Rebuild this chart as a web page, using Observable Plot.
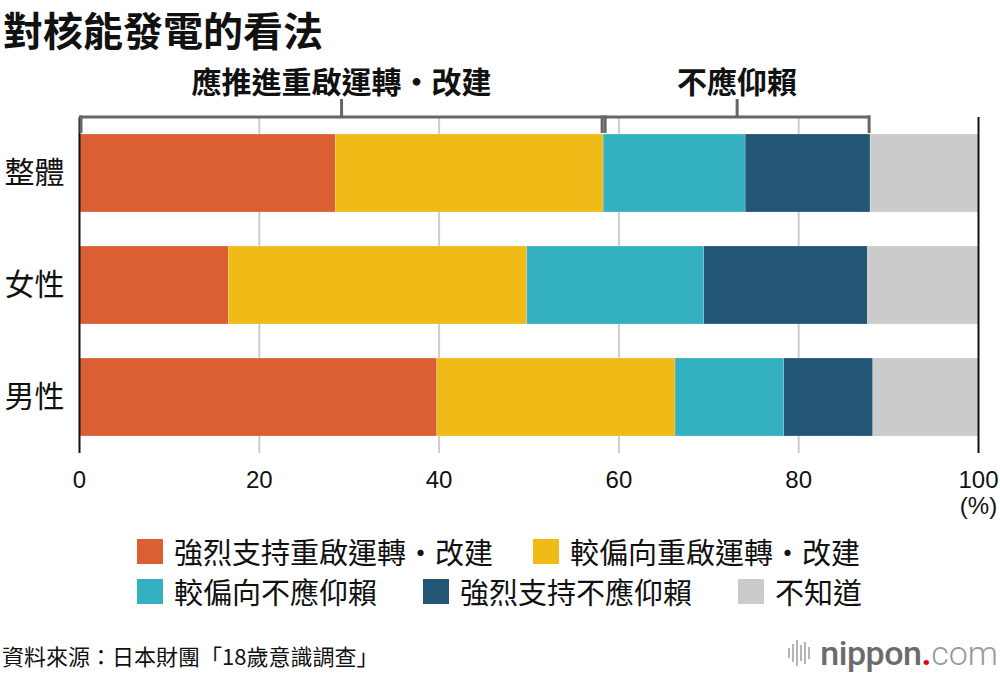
<!DOCTYPE html>
<html><head><meta charset="utf-8">
<script src="https://cdn.jsdelivr.net/npm/d3@7"></script>
<script src="https://cdn.jsdelivr.net/npm/@observablehq/plot@0.6"></script>
<style>
body{margin:0;width:1000px;height:674px;background:#fff;position:relative;overflow:hidden;font-family:"Noto Sans CJK TC",sans-serif;color:#111;}
#title{position:absolute;left:3px;top:0px;font-size:40px;font-weight:700;line-height:58px;}
#chart{position:absolute;left:0;top:50px;}
#legend{position:absolute;left:137px;top:531px;}
.row{display:flex;align-items:center;height:40px;gap:46px;}
.row.first{gap:40px;}
.item{display:flex;align-items:center;}
.sw{width:26px;height:25px;margin-right:11px;}
.lab{font-size:29px;line-height:34px;}
#source{position:absolute;left:2px;top:641px;font-size:22px;line-height:28px;}
#logo{position:absolute;right:2px;top:633px;display:flex;align-items:center;font-family:Roboto,sans-serif;font-size:34px;line-height:40px;}
#logo .n{color:#6b6b6b;font-weight:500;letter-spacing:-0.5px;}
#logo .d{color:#e60012;font-weight:700;}
#logo .c{color:#9a9a9a;font-weight:300;}
</style></head>
<body>
<div id="chart"></div>
<div id="title">對核能發電的看法</div>
<div id="legend"></div>
<div id="source">資料來源：日本財團「18歲意識調查」</div>
<div id="logo"><svg width="34" height="34" viewBox="0 0 34 34"><g stroke="#b5b5b5" stroke-width="2"><line x1="3" y1="12" x2="3" y2="22"/><line x1="7" y1="8" x2="7" y2="26"/><line x1="11" y1="4" x2="11" y2="30"/><line x1="15" y1="9" x2="15" y2="25"/><line x1="19" y1="6" x2="19" y2="28"/><line x1="23" y1="11" x2="23" y2="23"/></g></svg><span class="n">nippon</span><span class="d">.</span><span class="c">com</span></div>
<script>
const categories = ["整體", "女性", "男性"];
const seriesNames = ["強烈支持重啟運轉・改建", "較偏向重啟運轉・改建", "較偏向不應仰賴", "強烈支持不應仰賴", "不知道"];
const seriesColors = ["#DA5F33", "#F0BA17", "#33B1C0", "#235574", "#CBCBCB"];
const strongRestart = [28.5, 16.6, 39.8];
const leanRestart = [29.8, 33.2, 26.5];
const leanNot = [15.8, 19.7, 12.1];
const strongNot = [13.9, 18.2, 9.9];
const dontKnow = [12.0, 12.3, 11.7];
const groupLabels = ["應推進重啟運轉・改建", "不應仰賴"];
const xTicks = [0, 20, 40, 60, 80, 100];
const gridTicks = [20, 40, 60, 80];
const unitLabel = "(%)";

const seriesValues = [strongRestart, leanRestart, leanNot, strongNot, dontKnow];
const rows = [];
categories.forEach((c, i) => seriesNames.forEach((s, j) => rows.push({cat: c, series: s, value: seriesValues[j][i]})));

// bracket groups computed from the overall (整體) row
const c1 = strongRestart[0] + leanRestart[0];
const c2 = c1 + leanNot[0] + strongNot[0];
const brackets = [
  {label: groupLabels[0], x1: 0, x2: c1, cat: categories[0]},
  {label: groupLabels[1], x1: c1, x2: c2, cat: categories[0]}
];
const bracketColor = "#666";

const chart = Plot.plot({
  width: 1000,
  height: 470,
  marginLeft: 79,
  marginRight: 22,
  marginTop: 67,
  marginBottom: 67,
  style: {fontFamily: "'Noto Sans CJK TC', sans-serif", color: "#111", background: "transparent"},
  x: {domain: [0, 100]},
  y: {domain: categories, paddingInner: 34 / 112, paddingOuter: 17 / 112},
  color: {domain: seriesNames, range: seriesColors},
  marks: [
    Plot.ruleX(gridTicks, {stroke: "#cccccc", strokeWidth: 2}),
    Plot.barX(rows, {x: "value", y: "cat", fill: "series", stroke: "#fff", strokeWidth: 0.5, strokeOpacity: 0.4}),
    Plot.ruleX([xTicks[0], xTicks[xTicks.length - 1]], {stroke: "#111", strokeWidth: 2}),
    // bracket horizontals
    Plot.barX(brackets, {x1: "x1", x2: "x2", y: "cat", fill: bracketColor, insetTop: -18.5, insetBottom: 93.5}),
    // bracket end verticals
    Plot.tickX(brackets, {x: "x1", y: "cat", stroke: bracketColor, strokeWidth: 3, insetTop: -18.5, insetBottom: 79, dx: 1.5}),
    Plot.tickX(brackets, {x: "x2", y: "cat", stroke: bracketColor, strokeWidth: 3, insetTop: -18.5, insetBottom: 79, dx: -1.5}),
    // bracket center ticks
    Plot.tickX(brackets, {x: d => (d.x1 + d.x2) / 2, y: "cat", stroke: bracketColor, strokeWidth: 3, insetTop: -35, insetBottom: 95}),
    Plot.text(brackets, {x: d => (d.x1 + d.x2) / 2, y: "cat", text: "label", dy: -90, fontSize: 30, fontWeight: 700, fill: "#111"}),
    Plot.axisY({tickSize: 0, tickPadding: 15, fontSize: 30, label: null}),
    Plot.axisX({ticks: xTicks, tickSize: 0, tickPadding: 17, fontSize: 24, label: null, fontFamily: "'Liberation Sans', Arial, sans-serif"}),
    Plot.text([{v: xTicks[xTicks.length - 1], t: unitLabel}], {x: "v", text: "t", frameAnchor: "bottom", dy: 60, fontSize: 24, fontFamily: "'Liberation Sans', Arial, sans-serif", fill: "#111"})
  ]
});
document.getElementById("chart").appendChild(chart);

// legend
const legend = document.getElementById("legend");
const legendRows = [[0, 1], [2, 3, 4]];
legendRows.forEach((r, k) => {
  const row = document.createElement("div");
  row.className = k === 0 ? "row first" : "row";
  r.forEach(j => {
    const it = document.createElement("div");
    it.className = "item";
    const sw = document.createElement("div");
    sw.className = "sw";
    sw.style.background = seriesColors[j];
    const lab = document.createElement("span");
    lab.className = "lab";
    lab.textContent = seriesNames[j];
    it.appendChild(sw); it.appendChild(lab);
    row.appendChild(it);
  });
  legend.appendChild(row);
});
</script>
</body></html>
